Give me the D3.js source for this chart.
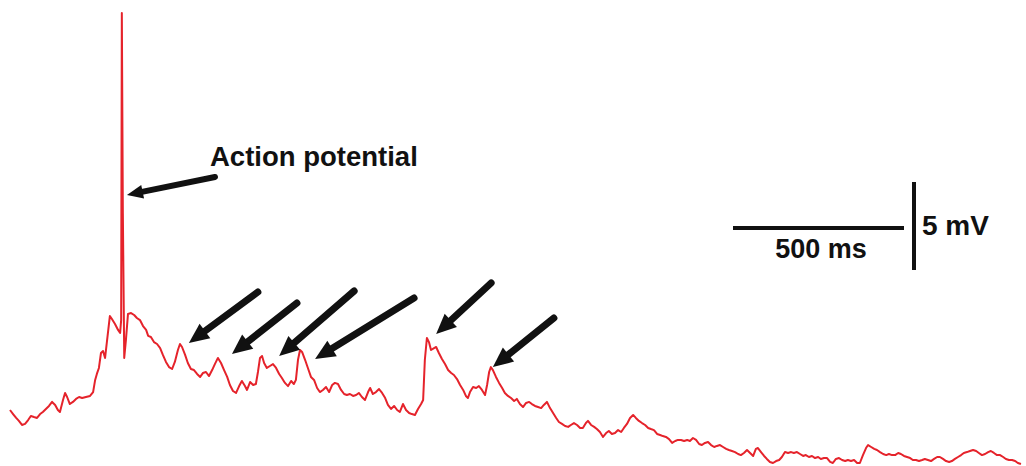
<!DOCTYPE html>
<html>
<head>
<meta charset="utf-8">
<script src="https://cdn.jsdelivr.net/npm/d3@7"></script>
<style>
  html, body { margin: 0; background: #fff; }
  svg { display: block; }
</style>
</head>
<body>
<div id="chart"></div>
<script>
'use strict';

// membrane potential trace: [time ms, mV relative to late baseline]
const preSpike = [[0,2.84],[9,2.61],[18,2.39],[26,2.22],[35,1.99],[44,2.05],[53,2.27],[61,2.50],[70,2.44],[79,2.39],[88,2.61],[96,2.73],[105,2.90],[114,3.07],[123,3.30],[132,3.13],[140,2.84],[146,2.73],[155,3.41],[161,3.81],[167,3.58],[175,3.18],[184,3.30],[193,3.47],[202,3.58],[211,3.52],[222,3.58],[234,3.64],[243,3.86],[249,4.55],[254,4.89],[260,5.23],[266,6.08],[272,6.19],[278,5.80],[284,6.82],[292,8.18],[298,8.01],[307,7.73],[316,7.39],[322,7.22]];

const spike = [[325,7.95],[327,25.4],[330,14.0],[334,5.80],[339,6.82],[345,8.30]];

const decayPhase = [[354,8.35],[363,8.24],[371,8.07],[380,7.95],[389,7.61],[398,7.39],[404,7.05],[412,6.99],[421,6.70],[430,6.59],[439,6.36],[447,5.97],[456,5.57],[465,5.28],[474,5.17],[482,5.57],[491,6.25],[497,6.59],[503,6.42],[512,5.97],[520,5.51],[529,5.17],[538,5.11],[547,4.89],[556,4.72],[564,4.94],[573,5.00],[582,4.77],[591,5.11],[599,5.45],[608,5.80],[617,5.51],[626,5.11],[635,4.72],[643,4.26],[652,3.92],[661,3.81],[670,4.20],[678,4.49],[687,4.20],[693,3.98],[702,4.43],[711,4.26],[719,4.32],[725,5.00],[731,5.80],[737,5.91],[743,5.51],[751,5.23],[760,5.34],[769,5.45],[778,5.23],[787,4.89],[795,4.66],[804,4.38],[813,4.20],[822,4.49],[830,4.32],[836,4.55],[842,5.68],[848,6.25],[854,6.14],[863,5.68],[871,5.23],[880,4.72],[889,4.55],[898,4.09],[906,3.86],[915,3.98],[924,4.15],[933,3.86],[942,4.26],[950,4.38],[959,4.32],[968,3.98],[977,3.75],[985,3.69],[994,3.75],[1003,3.64],[1012,3.69],[1020,3.81],[1029,3.58],[1038,3.41],[1047,3.86],[1053,4.09],[1061,3.75],[1070,3.86],[1079,4.03],[1088,3.81],[1097,3.52],[1105,3.13],[1114,2.90],[1123,3.07],[1132,2.84],[1140,2.73],[1149,3.18],[1158,2.84],[1167,2.67],[1175,2.61],[1184,2.56],[1193,2.90],[1202,3.18],[1208,3.41]];

const lateEpsps = [[1213,5.68],[1219,6.93],[1225,6.70],[1231,6.25],[1240,6.36],[1246,6.42],[1254,6.08],[1263,5.74],[1272,5.45],[1281,5.11],[1290,4.94],[1298,4.83],[1307,4.60],[1316,4.26],[1325,3.98],[1333,3.64],[1339,3.52],[1345,3.86],[1354,4.15],[1363,4.09],[1371,4.20],[1380,3.98],[1389,3.69],[1395,4.26],[1401,5.00],[1406,5.28],[1412,5.11],[1421,4.72],[1430,4.38],[1439,4.09],[1447,3.81],[1456,3.64],[1465,3.52],[1474,3.35],[1482,3.47],[1491,3.18],[1500,3.01],[1509,3.24],[1518,3.30],[1526,3.18],[1535,3.07],[1544,3.01],[1553,2.95],[1561,3.13],[1570,3.30],[1579,2.95],[1588,2.67],[1597,2.39],[1605,2.16],[1614,2.05],[1623,1.93],[1632,1.88],[1640,1.99],[1649,2.10],[1658,1.99],[1667,1.82],[1675,1.82],[1684,2.10],[1690,2.22]];

const recovery = [[1699,1.99],[1708,1.88],[1716,1.76],[1725,1.59],[1734,1.31],[1743,1.53],[1751,1.65],[1760,1.48],[1769,1.53],[1778,1.70],[1787,1.59],[1795,1.82],[1804,2.05],[1813,2.39],[1822,2.56],[1830,2.39],[1839,2.22],[1848,2.10],[1857,1.99],[1866,1.82],[1874,1.76],[1883,1.70],[1892,1.48],[1901,1.42],[1909,1.36],[1918,1.31],[1927,1.19],[1936,0.97],[1945,1.08],[1953,1.14],[1962,1.14],[1971,1.08],[1980,1.14],[1988,1.08],[1997,1.25],[2006,1.14],[2015,0.91],[2023,0.85],[2032,0.97],[2041,1.02],[2050,0.85],[2059,0.74],[2067,0.80],[2076,0.85],[2085,0.74],[2094,0.63],[2102,0.57],[2111,0.51],[2120,0.45],[2129,0.34],[2137,0.28],[2146,0.40],[2155,0.57],[2164,0.40],[2173,0.23],[2181,0.63],[2187,0.68],[2196,0.45],[2205,0.23],[2213,0.06],[2222,-0.11],[2231,-0.17],[2240,-0.06],[2249,0],[2257,0.17],[2266,0.45],[2275,0.40],[2284,0.45],[2292,0.40],[2301,0.45],[2310,0.34],[2319,0.23],[2327,0.28],[2336,0.17],[2345,0.23],[2354,0.11],[2363,0.17],[2371,0.06],[2380,0.11],[2389,0.11],[2398,-0.11],[2406,-0.17],[2415,0.06],[2424,0.11],[2433,0],[2442,-0.06],[2450,0],[2459,-0.06],[2468,0],[2477,-0.17],[2485,-0.17],[2494,0.28],[2503,0.68],[2509,0.85],[2518,0.74],[2527,0.63],[2535,0.57],[2544,0.45],[2553,0.34],[2562,0.28],[2570,0.34],[2579,0.28],[2588,0.28],[2597,0.40],[2605,0.34],[2614,0.23],[2623,0.17],[2632,0.11],[2640,0],[2649,0],[2658,-0.06],[2667,0],[2675,0.06],[2684,0],[2693,-0.06],[2702,0.06],[2711,0.17],[2719,0.17],[2728,0.06],[2737,-0.06],[2746,-0.11],[2754,-0.06],[2763,0.06],[2772,0.17],[2781,0.28],[2789,0.40],[2798,0.45],[2807,0.51],[2816,0.57],[2825,0.51],[2833,0.40],[2842,0.28],[2851,0.34],[2860,0.45],[2868,0.51],[2877,0.40],[2886,0.28],[2895,0.28],[2904,0.17],[2912,0.06],[2921,0],[2930,0],[2939,-0.06],[2947,-0.17],[2956,-0.23]];

// annotations
const apLabel = 'Action potential';
const apTip = [342, 15.06];
const epspTips = [[523,6.65],[649,6.02],[787,5.91],[892,5.74],[1246,7.16],[1412,5.28]];
const scaleBarMs = 500;
const scaleBarMv = 5;
const scaleBarLabels = ['500 ms', '5 mV'];

// layout
const width = 1026, height = 466;
const pxPerMs = 171 / 500, pxPerMv = 88 / 5;
const apTail = [88, -18];
const epspTails = [[69,-51],[65,-51],[75,-65],[99,-61],[55,-51],[61,-49]];
const ink = '#111';
const font = 'Liberation Sans, Arial, Helvetica, sans-serif';

const trace = [].concat(preSpike, spike, decayPhase, lateEpsps, recovery);

const x = d3.scaleLinear().domain([0, 3000]).range([10, 10 + 3000 * pxPerMs]);
const y = d3.scaleLinear().domain([0, 25]).range([460, 460 - 25 * pxPerMv]);

const svg = d3.select('#chart').append('svg')
    .attr('width', width)
    .attr('height', height);

const line = d3.line()
    .x(d => x(d[0]))
    .y(d => y(d[1]));

svg.append('path')
    .datum(trace)
    .attr('d', line)
    .attr('fill', 'none')
    .attr('stroke', '#e5232b')
    .attr('stroke-width', 2)
    .attr('stroke-linejoin', 'round');

function arrow(g, x1, y1, x2, y2, w, headLen, headW) {
    const dx = x2 - x1, dy = y2 - y1;
    const len = Math.hypot(dx, dy);
    const ux = dx / len, uy = dy / len;
    const bx = x2 - ux * headLen, by = y2 - uy * headLen;

    g.append('line')
        .attr('x1', x1).attr('y1', y1)
        .attr('x2', bx + ux * 2).attr('y2', by + uy * 2)
        .attr('stroke', ink)
        .attr('stroke-width', w)
        .attr('stroke-linecap', 'round');

    g.append('path')
        .attr('d', `M${x2},${y2}L${bx - uy * headW / 2},${by + ux * headW / 2}L${bx + uy * headW / 2},${by - ux * headW / 2}Z`)
        .attr('fill', ink);
}

const notes = svg.append('g').classed('arrows', true);

// action potential arrow + label
const apX = x(apTip[0]), apY = y(apTip[1]);
arrow(notes, apX + apTail[0], apY + apTail[1], apX, apY, 6, 16, 14);
svg.append('text')
    .attr('x', 210)
    .attr('y', 166)
    .attr('font-family', font)
    .attr('font-weight', 'bold')
    .attr('font-size', 27.5)
    .attr('fill', ink)
    .text(apLabel);

// EPSP arrows
epspTips.forEach((tip, i) => {
    const tx = x(tip[0]), ty = y(tip[1]);
    arrow(notes, tx + epspTails[i][0], ty + epspTails[i][1], tx, ty, 7, 20, 18);
});

// scale bars
const bar = svg.append('g').classed('scale-bar', true);
const barLen = x(scaleBarMs) - x(0);
const barH = y(0) - y(scaleBarMv);
bar.append('line')
    .attr('x1', 733).attr('y1', 228)
    .attr('x2', 733 + barLen).attr('y2', 228)
    .attr('stroke', ink).attr('stroke-width', 4);
bar.append('line')
    .attr('x1', 914).attr('y1', 182)
    .attr('x2', 914).attr('y2', 182 + barH)
    .attr('stroke', ink).attr('stroke-width', 4);
bar.append('text')
    .attr('x', 821)
    .attr('y', 258)
    .attr('text-anchor', 'middle')
    .attr('font-family', font)
    .attr('font-weight', 'bold')
    .attr('font-size', 27)
    .attr('fill', ink)
    .text(scaleBarLabels[0]);
bar.append('text')
    .attr('x', 922)
    .attr('y', 235)
    .attr('font-family', font)
    .attr('font-weight', 'bold')
    .attr('font-size', 28)
    .attr('fill', ink)
    .text(scaleBarLabels[1]);
</script>
</body>
</html>
